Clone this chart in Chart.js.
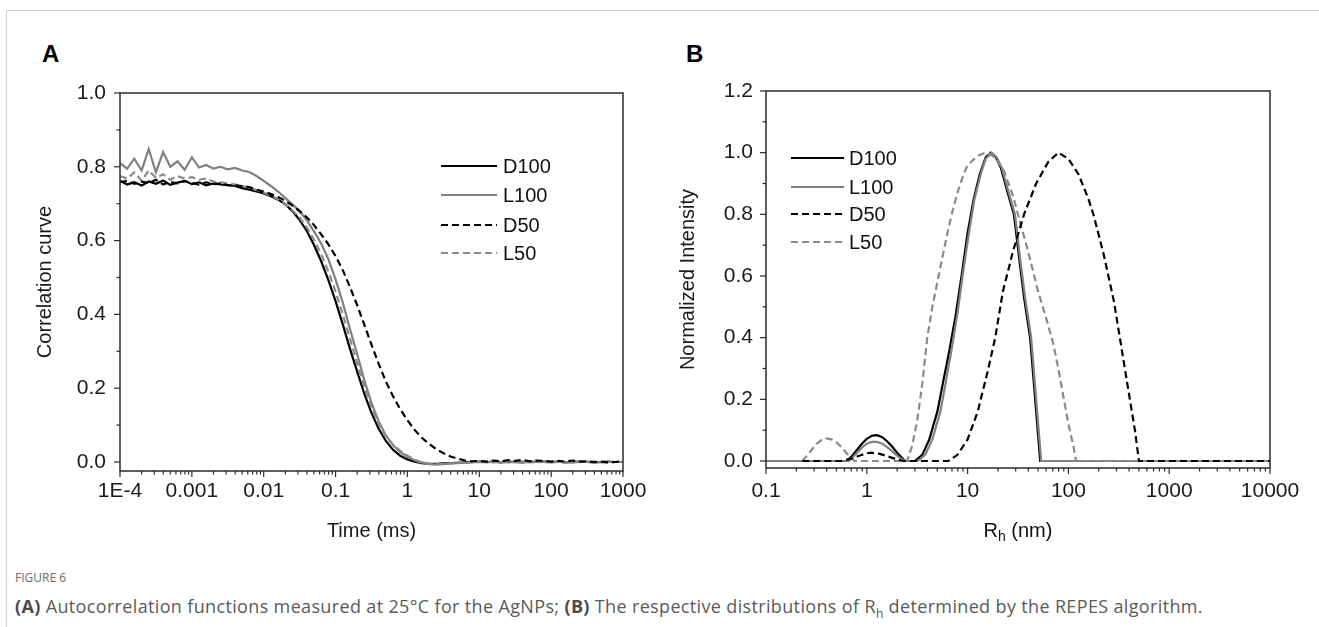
<!DOCTYPE html>
<html>
<head>
<meta charset="utf-8">
<script src="https://cdn.jsdelivr.net/npm/chart.js@4.4.1/dist/chart.umd.min.js"></script>
<style>
  body { margin: 0; background: #fff; width: 1319px; height: 627px; overflow: hidden; position: relative; }
  .frame { position: absolute; left: 6px; top: 10px; width: 1313px; height: 617px; border-top: 1px solid #cfcfcf; border-left: 1px solid #cfcfcf; }
  .panel { position: absolute; top: 0; }
  .letter { position: absolute; font: bold 24px "Liberation Sans", Arial, sans-serif; color: #000; }
  .fig { position: absolute; left: 15px; top: 569px; font: 12px "Open Sans", sans-serif; color: #6b6b6b; }
  .cap { position: absolute; left: 15px; top: 594px; font: 18px "Open Sans", sans-serif; letter-spacing: 0.35px; color: #5a5a5a; white-space: nowrap; }
  .cap b { color: #4a4a4a; }
</style>
</head>
<body>
<div class="frame"></div>
<div class="letter" style="left:42px;top:40px">A</div>
<div class="letter" style="left:686px;top:40px">B</div>
<div class="panel" style="left:0;width:660px;height:560px"><canvas id="chartA" width="660" height="560"></canvas></div>
<div class="panel" style="left:660px;width:659px;height:560px"><canvas id="chartB" width="659" height="560"></canvas></div>
<div class="fig">FIGURE 6</div>
<div class="cap"><b>(A)</b> Autocorrelation functions measured at 25°C for the AgNPs; <b>(B)</b> The respective distributions of R<sub style="font-size:12px">h</sub> determined by the REPES algorithm.</div>

<script>
// ---- Panel A : correlation curves ----
var seriesNames = ['D100', 'L100', 'D50', 'L50'];

var timeA = [
  1e-4, 1.26e-4, 1.58e-4, 2e-4, 2.51e-4, 3.16e-4, 3.98e-4, 5.01e-4, 6.31e-4, 7.94e-4,
  1e-3, 1.26e-3, 1.58e-3, 2e-3, 2.51e-3, 3.16e-3, 3.98e-3, 5.01e-3, 6.31e-3, 7.94e-3,
  0.01, 0.0126, 0.0158, 0.02, 0.0251, 0.0316, 0.0398, 0.0501, 0.0631, 0.0794,
  0.1, 0.126, 0.158, 0.2, 0.251, 0.316, 0.398, 0.501, 0.631, 0.794,
  1, 1.26, 1.58, 2, 2.51, 3.16, 3.98, 5.01, 6.31, 7.94,
  10, 12.6, 15.8, 20, 25.1, 31.6, 39.8, 50.1, 63.1, 79.4,
  100, 126, 158, 200, 251, 316, 398, 501, 631, 794, 1000
];
var corrD100 = [
  .762, .752, .758, .749, .760, .754, .763, .751, .757, .762,
  .753, .758, .750, .755, .752, .750, .748, .742, .738, .733,
  .728, .720, .711, .698, .680, .656, .626, .588, .544, .493,
  .436, .373, .308, .245, .185, .133, .090, .057, .033, .017,
  .007, .001, -.003, -.005, -.005, -.004, -.003, -.002, -.001, 0,
  .001, 0, .001, -.001, .001, 0, -.001, .001, 0, .001,
  0, .001, -.001, 0, .001, 0, -.001, 0, .001, 0, 0
];
var corrL100 = [
  .810, .795, .822, .790, .848, .785, .840, .800, .815, .792,
  .826, .798, .805, .795, .800, .793, .797, .790, .786, .775,
  .762, .748, .733, .715, .698, .680, .655, .625, .592, .550,
  .495, .432, .362, .292, .222, .160, .110, .072, .045, .027,
  .014, .005, -.001, -.005, -.007, -.006, -.004, -.003, -.002, -.001,
  0, -.001, .001, 0, -.001, 0, .001, -.001, 0, 0,
  -.001, 0, 0, -.001, 0, .001, 0, -.001, 0, 0, 0
];
var corrD50 = [
  .758, .762, .754, .760, .756, .765, .752, .759, .755, .761,
  .756, .752, .758, .753, .755, .750, .750, .748, .745, .738,
  .733, .726, .718, .708, .695, .680, .663, .642, .617, .590,
  .558, .520, .475, .425, .372, .318, .266, .218, .178, .143,
  .113, .087, .066, .049, .035, .024, .015, .009, .004, .002,
  .003, .001, .004, .002, .005, .003, .006, .002, .004, .003,
  .001, .003, .001, .004, .001, .002, 0, .001, -.001, 0, .002
];
var corrL50 = [
  .775, .768, .785, .762, .790, .770, .780, .765, .775, .768,
  .772, .765, .768, .760, .758, .755, .752, .748, .743, .737,
  .730, .722, .712, .698, .682, .662, .636, .602, .563, .516,
  .462, .400, .335, .268, .204, .148, .103, .070, .047, .030,
  .017, .006, -.002, -.006, -.006, -.005, -.004, -.002, -.001, 0,
  .001, 0, -.001, .001, 0, -.001, 0, .001, 0, -.001,
  0, .001, 0, -.001, 0, 0, .001, 0, -.001, 0, 0
];
var xTicksA = [1e-4, 1e-3, 0.01, 0.1, 1, 10, 100, 1000];
var xLabelsA = ['1E-4', '0.001', '0.01', '0.1', '1', '10', '100', '1000'];
var yTicksA = [0, 0.2, 0.4, 0.6, 0.8, 1.0];

// ---- Panel B : size distributions ----
var rhD100 = [0.1, 0.631, 0.708, 0.794, 0.891, 1, 1.12, 1.26, 1.41, 1.58, 1.78, 2.0, 2.24, 2.4, 3.0, 3.55, 4.17, 5.01, 5.75, 6.61, 7.59, 8.71, 10, 11.5, 13.2, 15.1, 17.0, 19.1, 21.4, 24.5, 28.8, 32.4, 36.3, 41.7, 46.8, 52.5, 10000];
var intD100 = [0, 0, .015, .035, .055, .072, .082, .084, .078, .065, .047, .027, .010, 0, 0, .02, .07, .16, .26, .36, .47, .60, .74, .85, .93, .985, 1.0, .985, .95, .88, .80, .66, .53, .40, .20, 0, 0];
var rhL100 = [0.1, 0.661, 0.708, 0.794, 0.891, 1, 1.12, 1.26, 1.41, 1.58, 1.78, 2.0, 2.24, 2.4, 3.2, 3.8, 4.47, 5.37, 6.03, 6.92, 7.94, 8.91, 10.2, 11.7, 13.5, 15.1, 17.4, 19.5, 21.9, 25.1, 29.5, 33.1, 37.2, 42.7, 47.9, 53.7, 10000];
var intL100 = [0, 0, .008, .025, .043, .056, .062, .062, .057, .046, .032, .017, .005, 0, 0, .02, .07, .16, .25, .36, .48, .60, .73, .85, .93, .98, 1.0, .985, .95, .88, .80, .66, .53, .40, .20, 0, 0];
var rhD50 = [0.229, 0.562, 0.708, 0.891, 1.0, 1.12, 1.32, 1.58, 1.91, 2.29, 6.46, 7.94, 10, 12.6, 13.5, 15.8, 18.8, 22.4, 28.2, 36.3, 47.9, 63.1, 79.4, 100, 126, 158, 177, 224, 282, 324, 363, 407, 457, 501, 10000];
var intD50 = [0, 0, .008, .02, .025, .027, .024, .016, .007, 0, 0, .02, .07, .16, .20, .29, .40, .55, .68, .80, .90, .97, 1.0, .98, .93, .85, .80, .67, .52, .40, .30, .20, .10, 0, 0];
var rhL50 = [0.229, 0.251, 0.282, 0.316, 0.355, 0.398, 0.447, 0.501, 0.562, 0.631, 0.708, 0.759, 2.51, 2.82, 3.16, 3.55, 3.98, 4.47, 5.01, 5.62, 6.31, 7.08, 7.94, 8.91, 10, 12.6, 15.1, 17.8, 22.4, 28.2, 31.6, 39.8, 50.1, 63.1, 70.8, 79.4, 89.1, 100, 112, 119, 10000];
var intL50 = [0, .015, .035, .055, .068, .073, .070, .060, .045, .025, .008, 0, 0, .05, .13, .25, .40, .50, .58, .66, .74, .81, .87, .92, .96, .99, 1.0, .99, .95, .86, .80, .68, .55, .44, .38, .30, .21, .12, .05, 0, 0];
var xTicksB = [0.1, 1, 10, 100, 1000, 10000];
var xLabelsB = ['0.1', '1', '10', '100', '1000', '10000'];
var yTicksB = [0, 0.2, 0.4, 0.6, 0.8, 1.0, 1.2];

Chart.defaults.font.family = '"Liberation Sans", Arial, sans-serif';
Chart.defaults.font.size = 20;
Chart.defaults.color = '#1a1a1a';

// styles des courbes (même ordre que seriesNames)
var lineStyles = [
  { color: '#000000', dash: [], order: 4 },
  { color: '#808080', dash: [], order: 3 },
  { color: '#000000', dash: [7, 4], order: 1 },
  { color: '#8a8a8a', dash: [7, 4], order: 2 }
];

function toPoints(xs, ys) {
  return xs.map(function (x, i) { return { x: x, y: ys[i] }; });
}

function makeDatasets(pairs) {
  return pairs.map(function (p, i) {
    return {
      label: seriesNames[i],
      data: toPoints(p[0], p[1]),
      borderColor: lineStyles[i].color,
      borderDash: lineStyles[i].dash,
      borderWidth: 2.2,
      order: lineStyles[i].order,
      showLine: true,
      pointRadius: 0,
      tension: 0
    };
  });
}

function line(ctx, x1, y1, x2, y2) {
  ctx.beginPath(); ctx.moveTo(x1, y1); ctx.lineTo(x2, y2); ctx.stroke();
}

// cadre, graduations et légende dessinés à la main
var framePlugin = {
  id: 'frame',
  afterDatasetsDraw: function (chart, args, opts) {
    var ctx = chart.ctx, a = chart.chartArea;
    var xs = chart.scales.x, ys = chart.scales.y;
    ctx.save();
    ctx.strokeStyle = '#2b2b2b';
    ctx.lineWidth = 1.5;
    ctx.strokeRect(a.left, a.top, a.right - a.left, a.bottom - a.top);
    ctx.lineWidth = 1.2;
    // y : majeures + mineures
    opts.yTicks.forEach(function (v, i) {
      var py = ys.getPixelForValue(v);
      line(ctx, a.left - 6, py, a.left, py);
      if (i < opts.yTicks.length - 1) {
        var pm = ys.getPixelForValue((v + opts.yTicks[i + 1]) / 2);
        line(ctx, a.left - 3.5, pm, a.left, pm);
      }
    });
    // x : décades + mineures 2..9
    opts.xTicks.forEach(function (v, i) {
      var px = xs.getPixelForValue(v);
      line(ctx, px, a.bottom, px, a.bottom + 6);
      if (i < opts.xTicks.length - 1) {
        for (var m = 2; m <= 9; m++) {
          var pm = xs.getPixelForValue(v * m);
          line(ctx, pm, a.bottom, pm, a.bottom + 3.5);
        }
      }
    });
    // légende
    var lg = opts.legend;
    ctx.font = '20px "Liberation Sans", Arial, sans-serif';
    ctx.textBaseline = 'middle';
    ctx.fillStyle = '#111';
    chart.data.datasets.forEach(function (ds, i) {
      var y = lg.rows[i];
      ctx.strokeStyle = ds.borderColor;
      ctx.setLineDash(ds.borderDash);
      ctx.lineWidth = 2.2;
      line(ctx, lg.x0, y, lg.x1, y);
      ctx.setLineDash([]);
      ctx.fillText(ds.label, lg.tx, y + 1);
    });
    // titre x avec indice (R_h)
    if (opts.subTitle) {
      var cx = (a.left + a.right) / 2, ty = opts.subTitle.y;
      ctx.font = '20px "Liberation Sans", Arial, sans-serif';
      var wR = ctx.measureText('R').width;
      var wRest = ctx.measureText(' (nm)').width;
      ctx.font = '14px "Liberation Sans", Arial, sans-serif';
      var wh = ctx.measureText('h').width;
      var x0 = cx - (wR + wh + wRest) / 2;
      ctx.font = '20px "Liberation Sans", Arial, sans-serif';
      ctx.fillText('R', x0, ty);
      ctx.font = '14px "Liberation Sans", Arial, sans-serif';
      ctx.fillText('h', x0 + wR, ty + 6);
      ctx.font = '20px "Liberation Sans", Arial, sans-serif';
      ctx.fillText(' (nm)', x0 + wR + wh, ty);
    }
    ctx.restore();
  }
};

function makeScales(cfg) {
  return {
    x: {
      type: 'logarithmic',
      min: cfg.xTicks[0],
      max: cfg.xTicks[cfg.xTicks.length - 1],
      grid: { display: false, drawTicks: false },
      border: { display: false },
      afterBuildTicks: function (s) { s.ticks = cfg.xTicks.map(function (v) { return { value: v }; }); },
      afterFit: function (s) { s.height = cfg.xHeight; },
      ticks: {
        autoSkip: false, maxRotation: 0, padding: cfg.xPad, font: { size: 21 },
        callback: function (v) { return cfg.xLabels[cfg.xTicks.indexOf(v)]; }
      },
      title: cfg.xTitle ? { display: true, text: cfg.xTitle, padding: { top: 0, bottom: 17 } } : { display: false }
    },
    y: {
      min: cfg.yMin,
      max: cfg.yTicks[cfg.yTicks.length - 1],
      grid: { display: false, drawTicks: false },
      border: { display: false },
      afterBuildTicks: function (s) { s.ticks = cfg.yTicks.map(function (v) { return { value: v }; }); },
      afterFit: function (s) { s.width = cfg.yWidth; },
      ticks: { padding: cfg.yPad, font: { size: 21 }, callback: function (v) { return v.toFixed(1); } },
      title: { display: true, text: cfg.yTitle, padding: { top: cfg.yTitlePad, bottom: 0 } }
    }
  };
}

var chartA = new Chart(document.getElementById('chartA'), {
  type: 'scatter',
  data: { datasets: makeDatasets([[timeA, corrD100], [timeA, corrL100], [timeA, corrD50], [timeA, corrL50]]) },
  options: {
    responsive: false,
    animation: false,
    layout: { padding: { top: 93, right: 37, left: 0, bottom: 0 } },
    plugins: {
      legend: { display: false },
      tooltip: { enabled: false },
      frame: { xTicks: xTicksA, yTicks: yTicksA, legend: { x0: 441, x1: 497, tx: 503, rows: [166, 195, 225, 253] } }
    },
    scales: makeScales({
      xTicks: xTicksA, xLabels: xLabelsA, xHeight: 89, xPad: 8, xTitle: 'Time (ms)',
      yTicks: yTicksA, yMin: -0.0244, yWidth: 120, yPad: 14, yTitle: 'Correlation curve', yTitlePad: 33
    })
  },
  plugins: [framePlugin]
});

var chartB = new Chart(document.getElementById('chartB'), {
  type: 'scatter',
  data: { datasets: makeDatasets([[rhD100, intD100], [rhL100, intL100], [rhD50, intD50], [rhL50, intL50]]) },
  options: {
    responsive: false,
    animation: false,
    layout: { padding: { top: 91, right: 49, left: 0, bottom: 0 } },
    plugins: {
      legend: { display: false },
      tooltip: { enabled: false },
      frame: { xTicks: xTicksB, yTicks: yTicksB, legend: { x0: 131, x1: 184, tx: 189, rows: [158, 187, 214, 242] }, subTitle: { y: 531 } }
    },
    scales: makeScales({
      xTicks: xTicksB, xLabels: xLabelsB, xHeight: 92, xPad: 11, xTitle: null,
      yTicks: yTicksB, yMin: -0.0227, yWidth: 106, yPad: 13, yTitle: 'Normalized Intensity', yTitlePad: 16
    })
  },
  plugins: [framePlugin]
});
</script>
</body>
</html>
